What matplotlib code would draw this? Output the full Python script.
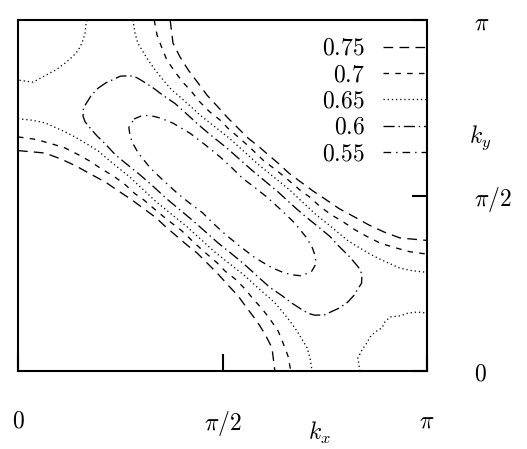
import numpy as np
import matplotlib
matplotlib.use("Agg")
import matplotlib.pyplot as plt

plt.rcParams['mathtext.fontset'] = 'cm'
plt.rcParams['lines.scale_dashes'] = False

# contour lines of the band, coordinates in units of pi
# level 0.75
kx_075a = [0.372, 0.379, 0.396, 0.416, 0.440, 0.462, 0.489, 0.513, 0.538, 0.562, 0.588, 0.614,
           0.640, 0.664, 0.692, 0.721, 0.752, 0.786, 0.821, 0.858, 0.895, 0.934, 1.0]
ky_075a = [1.0, 0.934, 0.895, 0.858, 0.821, 0.786, 0.752, 0.721, 0.692, 0.664, 0.640, 0.614,
           0.588, 0.562, 0.538, 0.513, 0.489, 0.462, 0.440, 0.416, 0.396, 0.379, 0.372]
kx_075b = [0.0, 0.066, 0.105, 0.142, 0.179, 0.214, 0.248, 0.279, 0.308, 0.336, 0.360, 0.386,
           0.412, 0.438, 0.462, 0.487, 0.511, 0.538, 0.560, 0.584, 0.604, 0.621, 0.628]
ky_075b = [0.628, 0.621, 0.604, 0.584, 0.560, 0.538, 0.511, 0.487, 0.462, 0.438, 0.412, 0.386,
           0.360, 0.336, 0.308, 0.279, 0.248, 0.214, 0.179, 0.142, 0.105, 0.066, 0.0]

# level 0.7
kx_070a = [0.333, 0.340, 0.352, 0.364, 0.384, 0.403, 0.425, 0.445, 0.469, 0.494, 0.513, 0.538, 0.568,
           0.600, 0.636, 0.667, 0.692, 0.715, 0.738, 0.766, 0.795, 0.823, 0.852, 0.886, 0.920, 0.957, 1.0]
ky_070a = [1.0, 0.957, 0.920, 0.886, 0.852, 0.823, 0.795, 0.766, 0.738, 0.715, 0.692, 0.667, 0.636,
           0.600, 0.568, 0.538, 0.513, 0.494, 0.469, 0.445, 0.425, 0.403, 0.384, 0.364, 0.352, 0.340, 0.333]
kx_070b = [0.0, 0.043, 0.080, 0.114, 0.148, 0.177, 0.205, 0.234, 0.262, 0.285, 0.308, 0.333, 0.364,
           0.400, 0.432, 0.462, 0.487, 0.506, 0.531, 0.555, 0.575, 0.597, 0.616, 0.636, 0.648, 0.660, 0.667]
ky_070b = [0.667, 0.660, 0.648, 0.636, 0.616, 0.597, 0.575, 0.555, 0.531, 0.506, 0.487, 0.462, 0.432,
           0.400, 0.364, 0.333, 0.308, 0.285, 0.262, 0.234, 0.205, 0.177, 0.148, 0.114, 0.080, 0.043, 0.0]

# level 0.65
kx_065a = [0.281, 0.286, 0.293, 0.306, 0.318, 0.335, 0.355, 0.374, 0.396, 0.421, 0.445, 0.469, 0.494,
           0.516, 0.552, 0.588, 0.626, 0.664, 0.684, 0.707, 0.729, 0.755, 0.781, 0.803, 0.829, 0.858,
           0.886, 0.909, 0.934, 0.963, 1.0]
ky_065a = [1.0, 0.963, 0.934, 0.909, 0.886, 0.858, 0.829, 0.803, 0.781, 0.755, 0.729, 0.707, 0.684,
           0.664, 0.626, 0.588, 0.552, 0.516, 0.494, 0.469, 0.445, 0.421, 0.396, 0.374, 0.355, 0.335,
           0.318, 0.306, 0.293, 0.286, 0.281]
kx_065b = [0.0, 0.037, 0.066, 0.091, 0.114, 0.142, 0.171, 0.197, 0.219, 0.245, 0.271, 0.293, 0.316,
           0.336, 0.374, 0.412, 0.448, 0.484, 0.506, 0.531, 0.555, 0.579, 0.604, 0.626, 0.645, 0.665,
           0.682, 0.694, 0.707, 0.714, 0.719]
ky_065b = [0.719, 0.714, 0.707, 0.694, 0.682, 0.665, 0.645, 0.626, 0.604, 0.579, 0.555, 0.531, 0.506,
           0.484, 0.448, 0.412, 0.374, 0.336, 0.316, 0.293, 0.271, 0.245, 0.219, 0.197, 0.171, 0.142,
           0.114, 0.091, 0.066, 0.037, 0.0]
kx_065c = [0.169, 0.166, 0.164, 0.159, 0.152, 0.142, 0.130, 0.115, 0.093, 0.078, 0.056, 0.037, 0.017, 0.0]
ky_065c = [1.0, 0.986, 0.963, 0.943, 0.923, 0.906, 0.892, 0.877, 0.858, 0.849, 0.835, 0.823, 0.826, 0.829]
kx_065d = [0.836, 0.831, 0.841, 0.853, 0.861, 0.873, 0.890, 0.897, 0.910, 0.934, 0.954, 0.976, 1.0]
ky_065d = [0.0, 0.037, 0.060, 0.080, 0.097, 0.111, 0.123, 0.140, 0.154, 0.157, 0.165, 0.168, 0.165]

# level 0.6 (closed)
kx_060 = [0.196, 0.215, 0.232, 0.250, 0.274, 0.290, 0.306, 0.330, 0.355, 0.384, 0.408, 0.440, 0.462,
          0.482, 0.510, 0.540, 0.572, 0.605, 0.636, 0.662, 0.681, 0.703, 0.737, 0.762, 0.785, 0.807,
          0.825, 0.836, 0.841, 0.840, 0.830, 0.821, 0.806,
          0.785, 0.768, 0.750, 0.726, 0.710, 0.694, 0.670, 0.645, 0.616, 0.592, 0.560, 0.538, 0.518,
          0.490, 0.460, 0.428, 0.395, 0.364, 0.338, 0.319, 0.297, 0.263, 0.238, 0.215, 0.193, 0.175,
          0.164, 0.159, 0.160, 0.170, 0.179, 0.196]
ky_060 = [0.806, 0.821, 0.830, 0.840, 0.841, 0.836, 0.825, 0.807, 0.785, 0.762, 0.737, 0.703, 0.681,
          0.662, 0.636, 0.605, 0.572, 0.540, 0.510, 0.482, 0.462, 0.440, 0.408, 0.384, 0.355, 0.330,
          0.306, 0.290, 0.274, 0.250, 0.232, 0.215, 0.196,
          0.179, 0.170, 0.160, 0.159, 0.164, 0.175, 0.193, 0.215, 0.238, 0.263, 0.297, 0.319, 0.338,
          0.364, 0.395, 0.428, 0.460, 0.490, 0.518, 0.538, 0.560, 0.592, 0.616, 0.645, 0.670, 0.694,
          0.710, 0.726, 0.750, 0.768, 0.785, 0.806]

# level 0.55 (closed)
kx_055 = [0.284, 0.306, 0.330, 0.350, 0.379, 0.421, 0.457, 0.494, 0.522, 0.549, 0.580, 0.610, 0.645,
          0.677, 0.706, 0.720, 0.726, 0.729, 0.718,
          0.694, 0.670, 0.650, 0.621, 0.579, 0.543, 0.506, 0.478, 0.451, 0.420, 0.390, 0.355, 0.323,
          0.294, 0.280, 0.274, 0.271, 0.284]
ky_055 = [0.718, 0.729, 0.726, 0.720, 0.706, 0.677, 0.645, 0.610, 0.580, 0.549, 0.522, 0.494, 0.457,
          0.421, 0.379, 0.350, 0.330, 0.306, 0.284,
          0.271, 0.274, 0.280, 0.294, 0.323, 0.355, 0.390, 0.420, 0.451, 0.478, 0.506, 0.543, 0.579,
          0.621, 0.650, 0.670, 0.694, 0.718]

levels = ['0.75', '0.7', '0.65', '0.6', '0.55']
pieces = {
    '0.75': [(kx_075a, ky_075a), (kx_075b, ky_075b)],
    '0.7': [(kx_070a, ky_070a), (kx_070b, ky_070b)],
    '0.65': [(kx_065a, ky_065a), (kx_065b, ky_065b), (kx_065c, ky_065c), (kx_065d, ky_065d)],
    '0.6': [(kx_060, ky_060)],
    '0.55': [(kx_055, ky_055)],
}
dash_styles = {
    '0.75': (0, (7.0, 4.5)),
    '0.7': (0, (4.0, 4.5)),
    '0.65': (0, (0.9, 2.1)),
    '0.6': (0, (8.0, 2.8, 1.0, 2.8)),
    '0.55': (0, (5.5, 3.6, 1.0, 3.6)),
}

fs = 17

fig = plt.figure(figsize=(5.27, 4.49), dpi=100)
ax = fig.add_axes([18 / 527, 78 / 449, 409 / 527, 351 / 449])

for lev in levels:
    for i, (kx, ky) in enumerate(pieces[lev]):
        ax.plot(np.pi * np.array(kx), np.pi * np.array(ky), color='black', lw=0.95,
                linestyle=dash_styles[lev], label='$' + lev + '$' if i == 0 else None)

ax.set_xlim(0, np.pi)
ax.set_ylim(0, np.pi)

for s in ax.spines.values():
    s.set_linewidth(1.5)

ax.set_xticks([0, np.pi / 2, np.pi])
ax.set_xticklabels(['$0$', r'$\pi/2$', r'$\pi$'])
ax.set_yticks([0, np.pi / 2, np.pi])
ax.set_yticklabels(['$0$', r'$\pi/2$', r'$\pi$'])
ax.yaxis.tick_right()
ax.tick_params(axis='x', direction='in', length=12, width=1.5, pad=27, labelsize=fs)
ax.tick_params(axis='y', direction='in', length=11, width=1.5, pad=34, labelsize=fs)
for t in ax.get_yticklabels():
    t.set_horizontalalignment('left')

ax.set_xlabel('$k_x$', fontsize=fs, va='center')
ax.xaxis.set_label_coords(0.738, -0.177)
ax.set_ylabel('$k_y$', fontsize=fs, rotation=0, ha='center', va='center')
ax.yaxis.set_label_coords(1.13, 0.664)

ax.legend(loc='upper right', bbox_to_anchor=(1.0, 0.955), markerfirst=False, frameon=False,
          borderpad=0, borderaxespad=0, handlelength=1.86, handletextpad=0.76,
          labelspacing=0.1, fontsize=fs)

fig.savefig('out.png', dpi=100)
